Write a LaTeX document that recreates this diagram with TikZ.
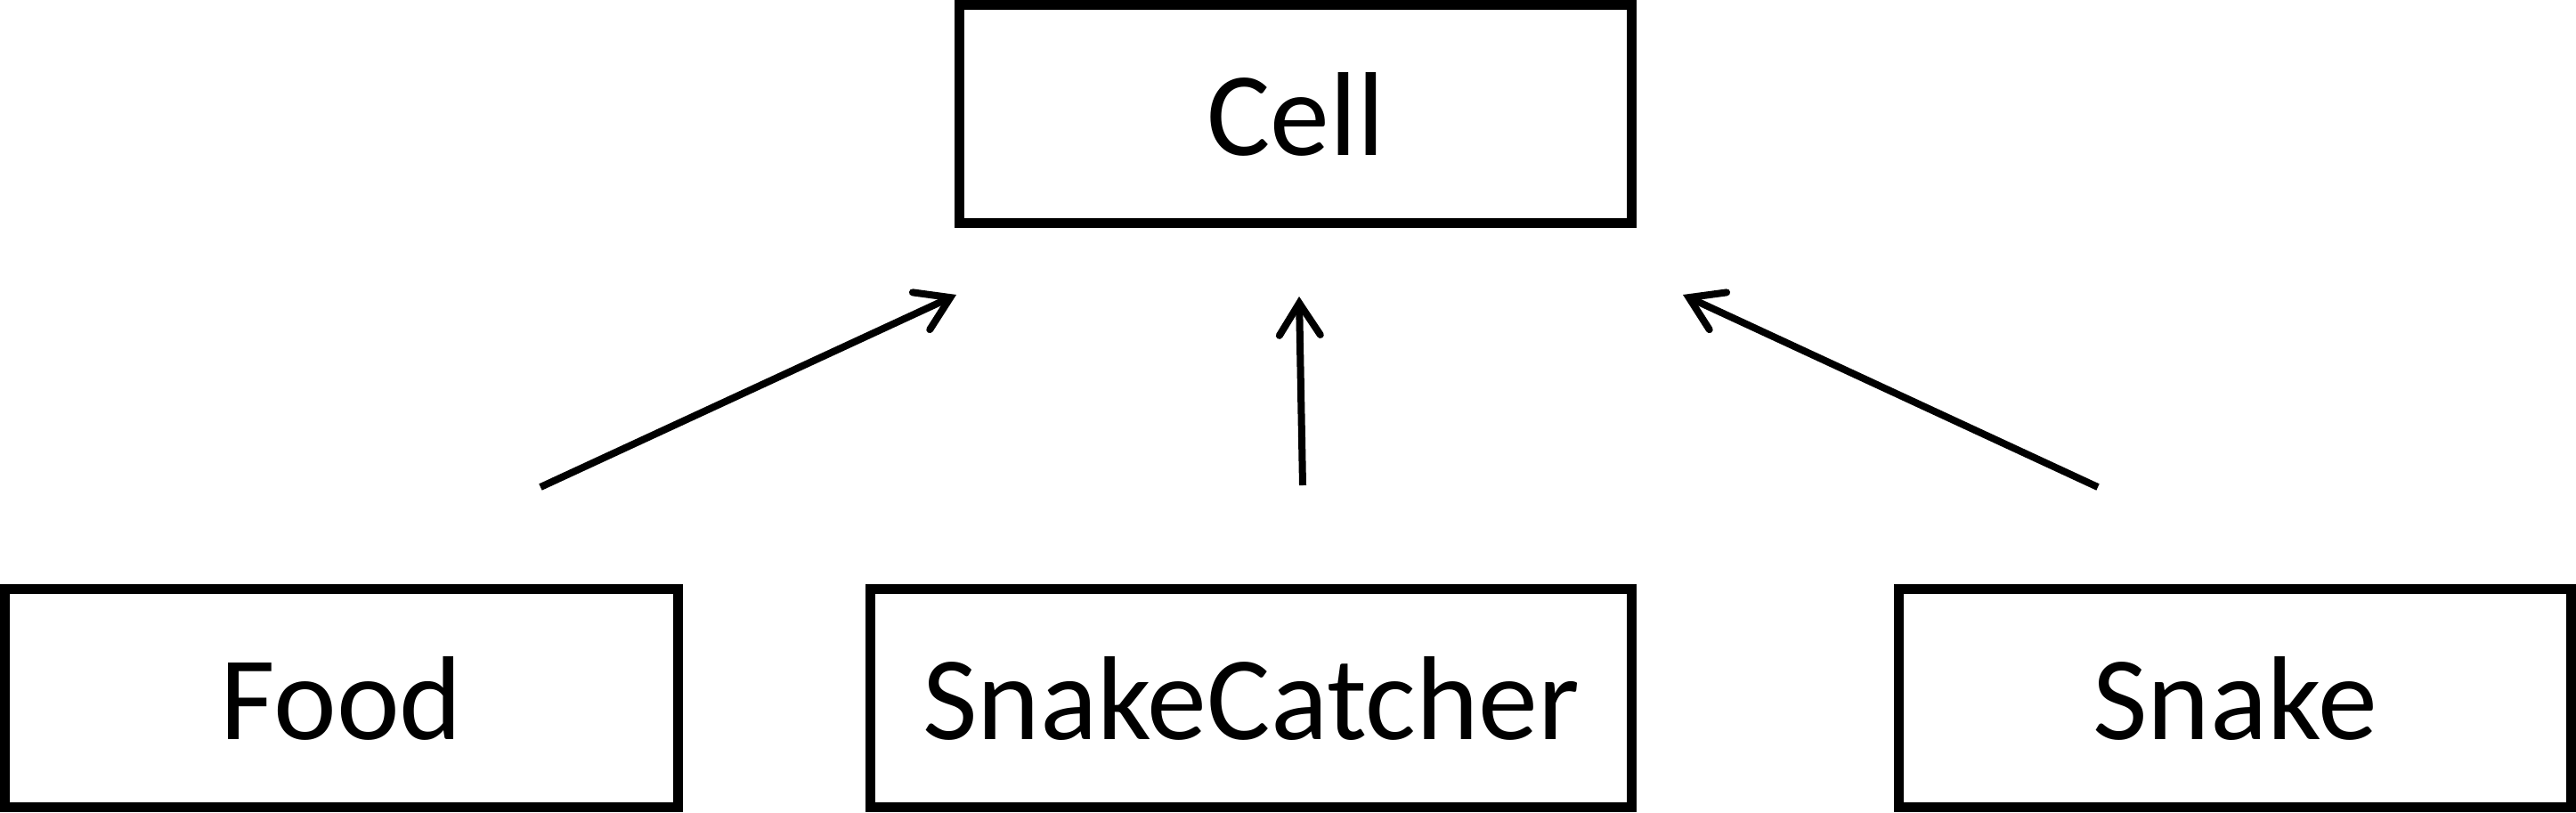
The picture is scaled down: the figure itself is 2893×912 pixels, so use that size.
\documentclass[tikz,border=0pt]{standalone}
\usepackage{fontspec}
\setmainfont{Carlito}
\usetikzlibrary{arrows.meta}
\begin{document}
\begin{tikzpicture}[x=0.25pt,y=-0.25pt,
  cls/.style={draw=black, line width=2.75pt, rectangle, inner sep=0pt,
    minimum height=61.25pt, font=\fontsize{33.5}{40}\selectfont},
  inh/.style={draw=black, line width=2pt,
    -{Straight Barb[length=9pt, width=11.5pt, line cap=round]}}]
\useasboundingbox (0,0) rectangle (2893,912);
\node[cls, minimum width=188.75pt] (cell) at (1455,128) {Cell};
\node[cls, minimum width=189pt] (food) at (383.5,784) {Food};
\node[cls, minimum width=213.75pt] (catcher) at (1405,784) {SnakeCatcher};
\node[cls, minimum width=188.75pt] (snake) at (2510,784) {Snake};
\coordinate (fs) at (607,547);
\coordinate (ft) at (1074,331);
\coordinate (cs) at (1463,545);
\coordinate (ct) at (1459,333);
\coordinate (ss) at (2356,547);
\coordinate (st) at (1890,331);
\draw[inh] (fs) -- (ft);
\draw[inh] (cs) -- (ct);
\draw[inh] (ss) -- (st);
\end{tikzpicture}
\end{document}
